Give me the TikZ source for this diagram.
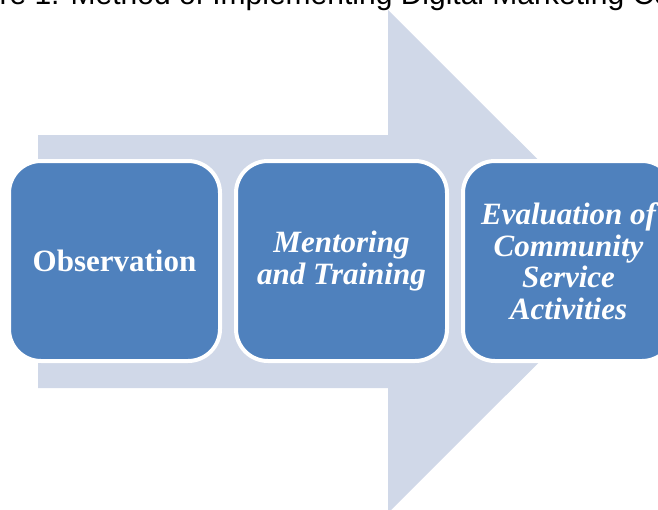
\documentclass[tikz,border=0pt]{standalone}
\usepackage{fontspec}
\setmainfont{Liberation Serif}
\newfontfamily\captionfont{Liberation Sans}
\usetikzlibrary{positioning}
\definecolor{stageblue}{HTML}{4F81BD}
\definecolor{arrowgrey}{HTML}{D0D8E8}
\tikzstyle{stage} = [rectangle, rounded corners=32pt, minimum width=211pt, minimum height=200pt, inner sep=0pt, align=center, draw=white, line width=4pt, fill=stageblue, text=white, font=\bfseries\fontsize{31}{31.5}\selectfont]
\tikzstyle{stageit} = [stage, font=\bfseries\itshape\fontsize{31}{31.5}\selectfont]

\begin{document}
\begin{tikzpicture}[x=1pt, y=-1pt, node distance=12pt]
\useasboundingbox (0,0) rectangle (658,509);
\clip (0,0) rectangle (658,509);

% caption line, cut off by the top edge
\node (title) [anchor=base west, inner sep=0pt, font=\captionfont\fontsize{30}{30}\selectfont] at (-59,4.5) {Figure 1. Method of Implementing Digital Marketing Co};

% big arrow behind the steps
\fill[arrowgrey] (38,135) -- (388,135) -- (388,10) -- (640,261.5) -- (388,513) -- (388,388) -- (38,388) -- cycle;

\node (obs) [stage] at (114.5,261) {Observation};
\node (mentor) [stageit, right=of obs] {Mentoring\\and Training};
\node (eval) [stageit, right=of mentor] {Evaluation of\\Community\\Service\\Activities};
\end{tikzpicture}
\end{document}
